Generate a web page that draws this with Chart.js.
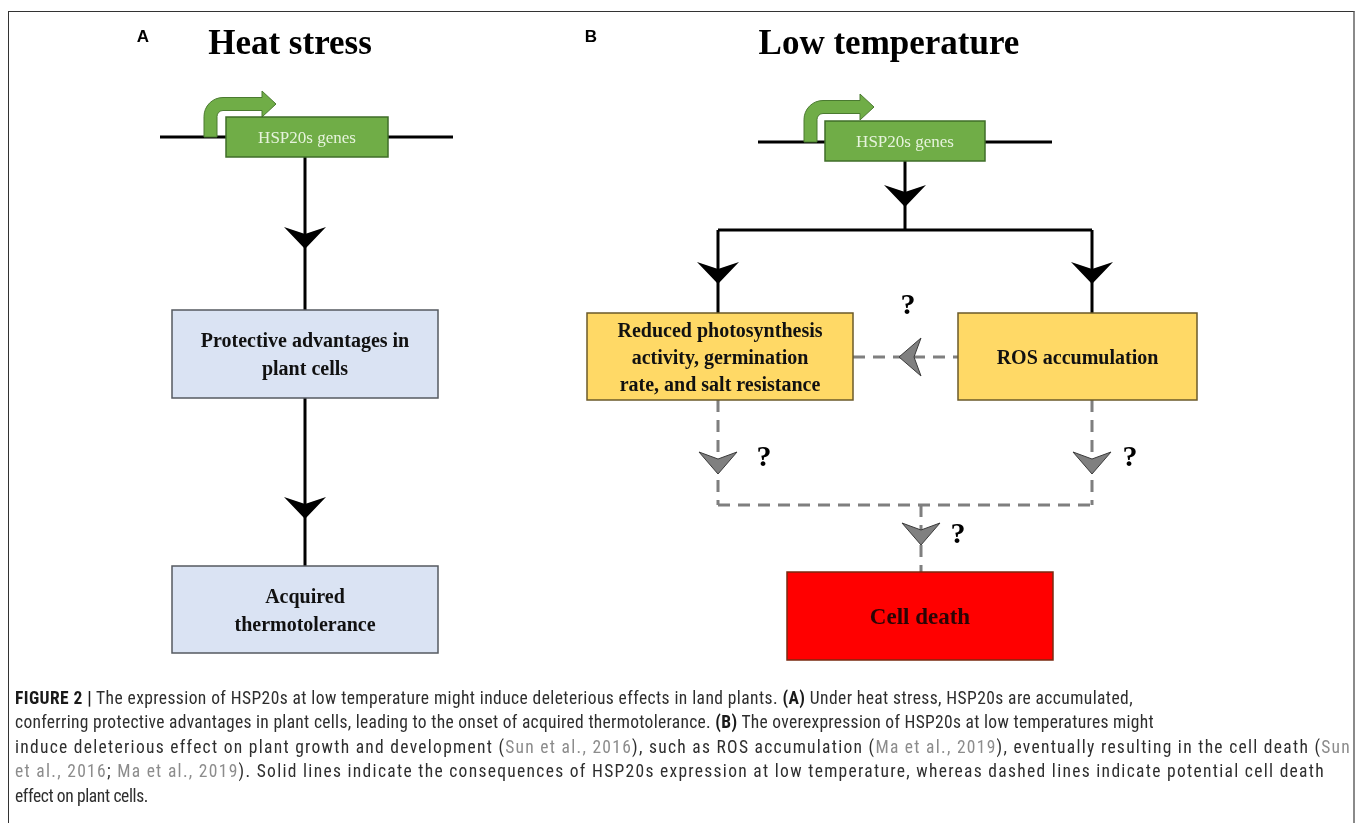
<!DOCTYPE html>
<html>
<head>
<meta charset="utf-8">
<script src="https://cdn.jsdelivr.net/npm/chart.js@4.4.1/dist/chart.umd.min.js"></script>
<style>
  html, body { margin: 0; padding: 0; background: #fff; }
  #wrap { position: relative; width: 1357px; height: 823px; overflow: hidden; }
  #frame { position: absolute; left: 8px; top: 11px; width: 1344px; height: 840px;
           border-left: 1.5px solid #333; border-top: 1.5px solid #333; border-right: 2px solid #8a8a8a; }
  #diagram { position: absolute; left: 0; top: 0; }
  #caption { position: absolute; left: 15px; top: 686px; font-family: "Liberation Sans Narrow", "Roboto Condensed", Roboto, "Liberation Sans", sans-serif;
             font-size: 17.5px; line-height: 24.4px; color: #2e2e2e; }
  #caption .ln { display: block; white-space: nowrap; width: max-content; }
  #caption b { color: #1a1a1a; }
  #caption .ref { color: #8c8c8c; }
</style>
</head>
<body>
<div id="wrap">
  <div id="frame"></div>
  <canvas id="diagram" width="1357" height="823"></canvas>
  <div id="caption">
    <span class="ln" data-w="1118"><b>FIGURE 2 |</b> The expression of HSP20s at low temperature might induce deleterious effects in land plants. <b>(A)</b> Under heat stress, HSP20s are accumulated,</span>
    <span class="ln" data-w="1139">conferring protective advantages in plant cells, leading to the onset of acquired thermotolerance. <b>(B)</b> The overexpression of HSP20s at low temperatures might</span>
    <span class="ln" data-w="1336">induce deleterious effect on plant growth and development (<span class="ref">Sun et al., 2016</span>), such as ROS accumulation (<span class="ref">Ma et al., 2019</span>), eventually resulting in the cell death (<span class="ref">Sun</span></span>
    <span class="ln" data-w="1310"><span class="ref">et al., 2016</span>; <span class="ref">Ma et al., 2019</span>). Solid lines indicate the consequences of HSP20s expression at low temperature, whereas dashed lines indicate potential cell death</span>
    <span class="ln" data-w="133">effect on plant cells.</span>
  </div>
</div>
<script>
// panel headings: [letter, letterX, title, titleX]
const panels = [
    ['A', 143, 'Heat stress', 290],
    ['B', 591, 'Low temperature', 889]
];

// gene promoter arrows: [stemLeftX, lineY, tipX, bandCenterY]
const promoters = [
    [204, 137, 276, 104],
    [804, 142, 874, 107]
];

// boxes: [x0, y0, x1, y1, kind]
const boxes = [
    [226, 117, 388, 157, 'gene'],
    [825, 121, 985, 161, 'gene'],
    [172, 310, 438, 398, 'blue'],
    [172, 566, 438, 653, 'blue'],
    [587, 313, 853, 400, 'yellow'],
    [958, 313, 1197, 400, 'yellow'],
    [787, 572, 1053, 660, 'red']
];
const boxLabels = [
    ['HSP20s genes'],
    ['HSP20s genes'],
    ['Protective advantages in', 'plant cells'],
    ['Acquired', 'thermotolerance'],
    ['Reduced photosynthesis', 'activity, germination', 'rate, and salt resistance'],
    ['ROS accumulation'],
    ['Cell death']
];

// connectors: [x1, y1, x2, y2]
const solidLinks = [
    [160, 137, 453, 137], [305, 157, 305, 310], [305, 398, 305, 566],
    [758, 142, 1052, 142], [905, 161, 905, 230], [718, 230, 1092, 230],
    [718, 230, 718, 313], [1092, 230, 1092, 313]
];
const dashedLinks = [
    [853, 357, 958, 357], [718, 400, 718, 505], [1092, 400, 1092, 505],
    [718, 505, 1092, 505], [921, 505, 921, 572]
];

// arrowheads: [x, y]
const solidHeads = [[305, 238], [305, 508], [905, 196], [718, 273], [1092, 273]];
const dashedHeadsDown = [[718, 463], [1092, 463], [921, 534]];
const dashedHeadsLeft = [[910, 357]];

// question marks: [x, y]
const questions = [[908, 306], [764, 458], [1130, 458], [958, 535]];

const boxStyle = {
    gene:   { fill: '#70ad47', stroke: '#3f6e28', text: '#e6f3dc', font: '17px "Liberation Serif", serif', lh: 20 },
    blue:   { fill: '#dae3f3', stroke: '#555a60', text: '#111', font: 'bold 20px "Liberation Serif", serif', lh: 28 },
    yellow: { fill: '#ffd966', stroke: '#6b5a2a', text: '#111', font: 'bold 20px "Liberation Serif", serif', lh: 27 },
    red:    { fill: '#ff0000', stroke: '#7a2a10', text: '#2a0505', font: 'bold 23px "Liberation Serif", serif', lh: 28 }
};

function makeHead(fill, stroke, w, h, notch) {
    const c = document.createElement('canvas');
    c.width = w + 2; c.height = h + 2;
    const g = c.getContext('2d');
    g.beginPath();
    g.moveTo(1, 1);
    g.lineTo(1 + w / 2, 1 + notch);
    g.lineTo(1 + w, 1);
    g.lineTo(1 + w / 2, 1 + h);
    g.closePath();
    g.fillStyle = fill;
    g.fill();
    if (stroke) { g.strokeStyle = stroke; g.lineWidth = 1; g.stroke(); }
    return c;
}
const blackHead = makeHead('#000', null, 42, 22, 7);
const grayHead = makeHead('#808080', '#3a3a3a', 38, 22, 7);

function pts(arr) { return arr.map(p => ({ x: p[0], y: p[1] })); }
function link(seg, color, width, dash) {
    return {
        type: 'line',
        data: [{ x: seg[0], y: seg[1] }, { x: seg[2], y: seg[3] }],
        borderColor: color, borderWidth: width, borderDash: dash,
        pointRadius: 0, showLine: true, fill: false, order: 3
    };
}

const datasets = [
    ...dashedLinks.map(s => link(s, '#7f7f7f', 3, [12, 8])),
    ...solidLinks.map(s => link(s, '#000', 3, [])),
    { data: pts(solidHeads), pointStyle: blackHead, order: 1 },
    { data: pts(dashedHeadsDown), pointStyle: grayHead, order: 1 },
    { data: pts(dashedHeadsLeft), pointStyle: grayHead, rotation: 90, order: 1 }
];

const diagramPlugin = {
    id: 'diagram',
    afterDatasetsDraw(chart) {
        const ctx = chart.ctx;
        const sx = chart.scales.x, sy = chart.scales.y;
        const X = v => sx.getPixelForValue(v), Y = v => sy.getPixelForValue(v);
        ctx.save();
        // promoter bent arrows
        promoters.forEach(p => {
            const [x0, ly, tip, cy] = p;
            const r = 19, bw = 13, cx = x0 + r, top = cy - bw / 2, base = tip - 14;
            ctx.beginPath();
            ctx.moveTo(X(x0), Y(ly));
            ctx.lineTo(X(x0), Y(top + r));
            ctx.arc(X(cx), Y(top + r), r, Math.PI, 1.5 * Math.PI);
            ctx.lineTo(X(base), Y(top));
            ctx.lineTo(X(base), Y(cy - 13));
            ctx.lineTo(X(tip), Y(cy));
            ctx.lineTo(X(base), Y(cy + 13));
            ctx.lineTo(X(base), Y(top + bw));
            ctx.lineTo(X(cx), Y(top + bw));
            ctx.arc(X(cx), Y(top + r), r - bw, 1.5 * Math.PI, Math.PI, true);
            ctx.lineTo(X(x0 + bw), Y(ly));
            ctx.closePath();
            ctx.fillStyle = '#70ad47';
            ctx.fill();
            ctx.strokeStyle = '#4a7a30';
            ctx.lineWidth = 1;
            ctx.stroke();
        });
        // boxes and labels
        boxes.forEach((b, i) => {
            const st = boxStyle[b[4]];
            const x0 = X(b[0]), y0 = Y(b[1]), w = X(b[2]) - x0, h = Y(b[3]) - y0;
            ctx.fillStyle = st.fill;
            ctx.fillRect(x0, y0, w, h);
            ctx.strokeStyle = st.stroke;
            ctx.lineWidth = 1.5;
            ctx.strokeRect(x0, y0, w, h);
            const lines = boxLabels[i];
            ctx.fillStyle = st.text;
            ctx.font = st.font;
            ctx.textAlign = 'center';
            ctx.textBaseline = 'middle';
            const mid = y0 + h / 2 + 2;
            lines.forEach((t, k) => {
                ctx.fillText(t, x0 + w / 2, mid + (k - (lines.length - 1) / 2) * st.lh);
            });
        });
        // question marks
        ctx.fillStyle = '#000';
        ctx.font = 'bold 30px "Liberation Serif", serif';
        questions.forEach(q => ctx.fillText('?', X(q[0]), Y(q[1])));
        // panel headings
        panels.forEach(p => {
            ctx.font = 'bold 17px "Liberation Sans", Arial, sans-serif';
            ctx.fillText(p[0], X(p[1]), Y(37));
            ctx.font = 'bold 35px "Liberation Serif", serif';
            ctx.fillText(p[2], X(p[3]), Y(45));
        });
        ctx.restore();
    }
};

new Chart(document.getElementById('diagram'), {
    type: 'scatter',
    data: { datasets },
    options: {
        responsive: false,
        animation: false,
        events: [],
        layout: { padding: 0, autoPadding: false },
        plugins: { legend: { display: false }, tooltip: { enabled: false } },
        scales: {
            x: { type: 'linear', min: 0, max: 1357, display: false },
            y: { type: 'linear', min: 0, max: 823, reverse: true, display: false }
        }
    },
    plugins: [diagramPlugin]
});

// spread caption letters so each line ends where the reference line ends
document.querySelectorAll('#caption .ln').forEach(el => {
    const w = el.getBoundingClientRect().width;
    const n = el.textContent.length;
    el.style.letterSpacing = ((parseFloat(el.dataset.w) - w) / n) + 'px';
});
</script>
</body>
</html>
